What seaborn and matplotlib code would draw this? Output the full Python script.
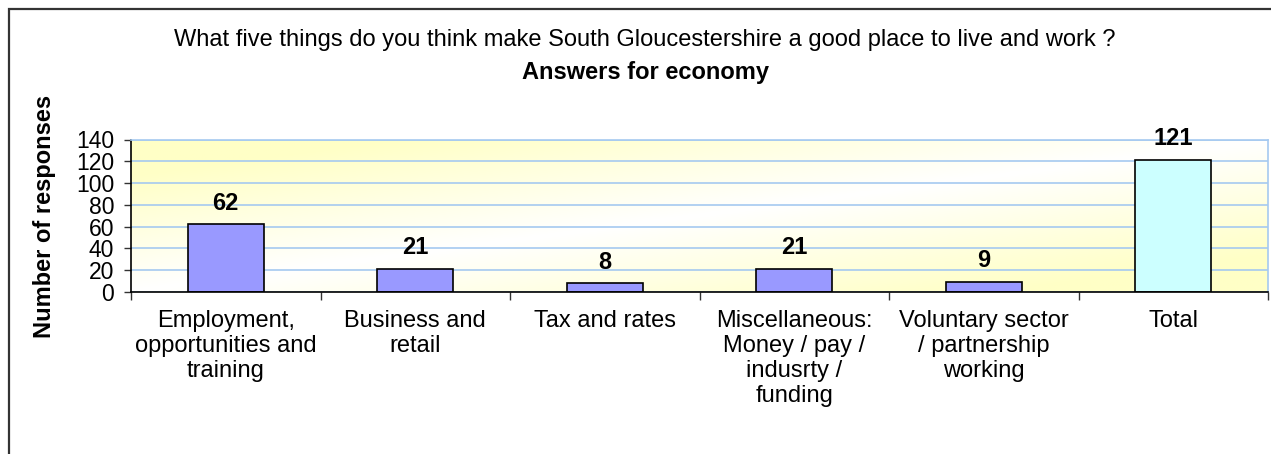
import numpy as np
import pandas as pd
import matplotlib
matplotlib.use("Agg")
import matplotlib.pyplot as plt
import matplotlib.patches as mpatches
from matplotlib.colors import LinearSegmentedColormap
import seaborn as sns

categories = [
    "Employment,\nopportunities and\ntraining",
    "Business and\nretail",
    "Tax and rates",
    "Miscellaneous:\nMoney / pay /\nindusrty /\nfunding",
    "Voluntary sector\n/ partnership\nworking",
    "Total",
]
values = [62, 21, 8, 21, 9, 121]
bar_colors = ["#9999FF", "#9999FF", "#9999FF", "#9999FF", "#9999FF", "#CCFFFF"]
y_ticks = [0, 20, 40, 60, 80, 100, 120, 140]
title_line1 = "What five things do you think make South Gloucestershire a good place to live and work ?"
title_line2 = "Answers for economy"
y_label = "Number of responses"

sns.set_theme(style="white")
plt.rcParams["font.family"] = ["Liberation Sans", "DejaVu Sans"]
plt.rcParams["text.color"] = "black"
plt.rcParams["xtick.color"] = "black"
plt.rcParams["ytick.color"] = "black"
plt.rcParams["axes.labelcolor"] = "black"

FS = 17

W, H = 1271, 454
fig = plt.figure(figsize=(W / 100, H / 100), dpi=100)
ax = fig.add_axes([131 / W, 1 - 292 / H, (1268 - 131) / W, (292 - 139.5) / H])

df = pd.DataFrame({"cat": categories, "val": values})
sns.barplot(data=df, x="cat", y="val", hue="cat", palette=bar_colors,
            saturation=1, width=0.4, edgecolor="black", linewidth=1.2,
            legend=False, ax=ax, zorder=2)

# gradient background
nx, ny = 400, 100
xx, yy = np.meshgrid(np.linspace(0, 1, nx), np.linspace(1, 0, ny))
g = np.clip(np.abs(yy - xx) * 1.3, 0, 1)
cmap = LinearSegmentedColormap.from_list("yw", ["#FFFFFF", "#FFFFC6"])
ax.imshow(g, cmap=cmap, extent=(0, 1, 0, 1), transform=ax.transAxes,
          aspect="auto", zorder=-5, vmin=0, vmax=1)

n = len(categories)
ax.set_xlim(-0.5, n - 0.5)
ax.set_ylim(0, 140)
ax.set_yticks(y_ticks)
ax.set_yticklabels([str(t) for t in y_ticks])
ax.yaxis.grid(True, color="#A6CAF0", linewidth=1.2, zorder=0.5)
ax.set_axisbelow(True)

# category boundaries as major ticks, labels at centers as minor
ax.set_xticks(np.arange(-0.5, n, 1.0))
ax.set_xticklabels([""] * (n + 1))
ax.set_xticks(np.arange(n), minor=True)
ax.set_xticklabels(categories, minor=True, fontsize=FS, linespacing=1.17)
ax.tick_params(axis="x", which="major", bottom=True, length=6, width=1, color="#333333")
ax.tick_params(axis="x", which="minor", bottom=False, length=0, pad=13)
ax.tick_params(axis="y", left=True, length=5, width=1, color="#333333",
               labelsize=16.5, pad=7)
ax.set_xlabel("")
ax.set_ylabel("")

for s in ["left", "bottom"]:
    ax.spines[s].set_color("black")
    ax.spines[s].set_linewidth(1.2)
for s in ["top", "right"]:
    ax.spines[s].set_color("#A6CAF0")
    ax.spines[s].set_linewidth(1.2)

for i, v in enumerate(values):
    ax.annotate(str(v), (i, v), xytext=(0, 7), textcoords="offset points",
                ha="center", va="bottom", fontsize=FS, fontweight="bold",
                annotation_clip=False, zorder=5)

fig.text(645 / W, 1 - 40 / H, title_line1, ha="center", va="center", fontsize=FS)
fig.text(645 / W, 1 - 73 / H, title_line2, ha="center", va="center", fontsize=FS,
         fontweight="bold")
fig.text(45 / W, 1 - 216 / H, y_label, ha="center", va="center", rotation=90,
         fontsize=FS, fontweight="bold")

frame = mpatches.Rectangle((8.5 / W, -0.1), 1.2, (H - 9.5) / H + 0.1,
                           transform=fig.transFigure, fill=False,
                           edgecolor="#333333", linewidth=1.6, clip_on=False)
fig.add_artist(frame)

fig.savefig("out.png", dpi=100, facecolor="white")
